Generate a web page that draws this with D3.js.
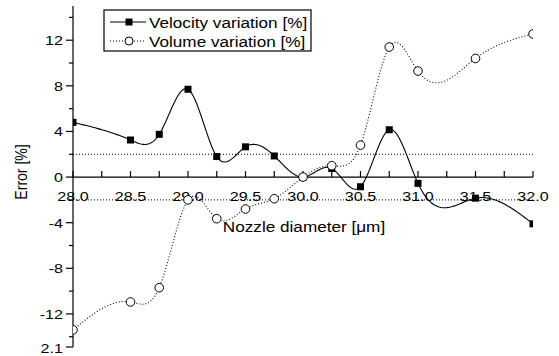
<!DOCTYPE html>
<html>
<head>
<meta charset="utf-8">
<script src="https://cdn.jsdelivr.net/npm/d3@7"></script>
<style>
  body { margin: 0; background: #fff; }
  text { font-family: "Liberation Sans", Arial, sans-serif; fill: #000; }
</style>
</head>
<body>
<div id="chart"></div>
<script>
// Data
var diameters = [28.0, 28.5, 28.75, 29.0, 29.25, 29.5, 29.75, 30.0, 30.25, 30.5, 30.75, 31.0, 31.5, 32.0];
var velocity = [4.8, 3.25, 3.75, 7.7, 1.8, 2.65, 1.85, 0, 0.75, -0.85, 4.15, -0.55, -1.85, -4.1];
var volume = [-13.4, -10.95, -9.7, -2.0, -3.65, -2.8, -1.9, 0, 1.0, 2.8, 11.4, 9.3, 10.4, 12.55];
var xTickLabels = ["28.0", "28.5", "29.0", "29.5", "30.0", "30.5", "31.0", "31.5", "32.0"];
var yTickLabels = ["-12", "-8", "-4", "0", "4", "8", "12"];
var refLines = [2, -2];
var seriesNames = ["Velocity variation [%]", "Volume variation [%]"];

var width = 559, height = 356;

var svg = d3.select("#chart")
  .append("svg")
  .attr("width", width)
  .attr("height", height);

var x = d3.scaleLinear().domain([28, 32]).range([73, 533]);
var y = d3.scaleLinear().domain([-14.9, 15]).range([347, 6]);

// text helper, squashed a bit vertically like the original
function label(parent, tx, ty, str, size, anchor) {
  return parent.append("text")
    .attr("transform", "translate(" + tx + "," + ty + ") scale(1.04,0.85)")
    .attr("text-anchor", anchor || "start")
    .attr("font-size", size + "px")
    .text(str);
}

// natural cubic spline y(x) through the points, sampled for drawing only
function splinePath(xs, ys) {
  var n = xs.length, h = [], alpha = [0], l = [1], mu = [0], z = [0];
  for (var i = 0; i < n - 1; i++) h[i] = xs[i + 1] - xs[i];
  for (i = 1; i < n - 1; i++) {
    alpha[i] = 3 / h[i] * (ys[i + 1] - ys[i]) - 3 / h[i - 1] * (ys[i] - ys[i - 1]);
  }
  for (i = 1; i < n - 1; i++) {
    l[i] = 2 * (xs[i + 1] - xs[i - 1]) - h[i - 1] * mu[i - 1];
    mu[i] = h[i] / l[i];
    z[i] = (alpha[i] - h[i - 1] * z[i - 1]) / l[i];
  }
  var c = [], b = [], d = [];
  c[n - 1] = 0;
  for (var j = n - 2; j >= 0; j--) {
    c[j] = z[j] - mu[j] * c[j + 1];
    b[j] = (ys[j + 1] - ys[j]) / h[j] - h[j] * (c[j + 1] + 2 * c[j]) / 3;
    d[j] = (c[j + 1] - c[j]) / (3 * h[j]);
  }
  var pts = [];
  for (j = 0; j < n - 1; j++) {
    for (var k = 0; k < 30; k++) {
      var t = h[j] * k / 30;
      pts.push([xs[j] + t, ys[j] + b[j] * t + c[j] * t * t + d[j] * t * t * t]);
    }
  }
  pts.push([xs[n - 1], ys[n - 1]]);
  return d3.line()
    .x(function (p) { return x(p[0]); })
    .y(function (p) { return y(p[1]); })(pts);
}

// dotted reference lines at +/-2
svg.selectAll(".ref")
  .data(refLines)
  .enter()
  .append("line")
  .attr("class", "ref")
  .attr("x1", x(28))
  .attr("x2", x(32))
  .attr("y1", function (d) { return y(d); })
  .attr("y2", function (d) { return y(d); })
  .attr("stroke", "#000")
  .attr("stroke-width", 1)
  .attr("stroke-dasharray", "1,2");

// y axis
svg.append("line")
  .attr("x1", x(28)).attr("x2", x(28))
  .attr("y1", y(15)).attr("y2", y(-14.9))
  .attr("stroke", "#000").attr("stroke-width", 1.2);

var yMinor = d3.range(-14, 15, 2);
svg.selectAll(".ytick")
  .data(yMinor)
  .enter()
  .append("line")
  .attr("x1", function (d) { return x(28) - (d % 4 === 0 ? 7 : 4); })
  .attr("x2", x(28))
  .attr("y1", function (d) { return y(d); })
  .attr("y2", function (d) { return y(d); })
  .attr("stroke", "#000").attr("stroke-width", 1.2);

yTickLabels.forEach(function (t) {
  label(svg, x(28) - 10, y(+t) + 5, t, 15.5, "end");
});

// odd end tick at the bottom of the axis
svg.append("line")
  .attr("x1", x(28) - 7).attr("x2", x(28))
  .attr("y1", y(-14.9)).attr("y2", y(-14.9))
  .attr("stroke", "#000").attr("stroke-width", 1.2);
label(svg, x(28) - 10, y(-14.9) + 6, "2.1", 15.5, "end");

// x axis through zero
svg.append("line")
  .attr("x1", x(28)).attr("x2", x(32))
  .attr("y1", y(0)).attr("y2", y(0))
  .attr("stroke", "#000").attr("stroke-width", 1.2);

svg.selectAll(".xtick")
  .data(d3.range(28, 32.01, 0.25))
  .enter()
  .append("line")
  .attr("x1", function (d) { return x(d); })
  .attr("x2", function (d) { return x(d); })
  .attr("y1", y(0))
  .attr("y2", y(0) - 6)
  .attr("stroke", "#000").attr("stroke-width", 1.2);

xTickLabels.forEach(function (t) {
  label(svg, x(+t), y(0) + 24, t, 15.5, "middle");
});

// axis titles
label(svg, 304, 232, "Nozzle diameter [\u03bcm]", 16.5, "middle");
svg.append("text")
  .attr("transform", "translate(27,172) rotate(-90) scale(0.85,1.04)")
  .attr("text-anchor", "middle")
  .attr("font-size", "16.5px")
  .text("Error [%]");

// clip markers to the plot width
svg.append("clipPath")
  .attr("id", "plotClip")
  .append("rect")
  .attr("x", x(28)).attr("y", 0)
  .attr("width", x(32) - x(28)).attr("height", height);

var plot = svg.append("g").attr("clip-path", "url(#plotClip)");

var velData = diameters.map(function (d, i) { return [d, velocity[i]]; });
var volData = diameters.map(function (d, i) { return [d, volume[i]]; });

// velocity: solid line, filled squares
plot.append("path")
  .attr("d", splinePath(diameters, velocity))
  .attr("fill", "none")
  .attr("stroke", "#000")
  .attr("stroke-width", 1.1);

plot.selectAll(".sq")
  .data(velData)
  .enter()
  .append("rect")
  .attr("x", function (d) { return x(d[0]) - 3.5; })
  .attr("y", function (d) { return y(d[1]) - 3.5; })
  .attr("width", 7)
  .attr("height", 7)
  .attr("fill", "#000");

// volume: dotted line, open circles
plot.append("path")
  .attr("d", splinePath(diameters, volume))
  .attr("fill", "none")
  .attr("stroke", "#000")
  .attr("stroke-width", 1.1)
  .attr("stroke-dasharray", "1,2");

plot.selectAll(".circ")
  .data(volData)
  .enter()
  .append("circle")
  .attr("cx", function (d) { return x(d[0]); })
  .attr("cy", function (d) { return y(d[1]); })
  .attr("r", 4.3)
  .attr("fill", "#fff")
  .attr("stroke", "#000")
  .attr("stroke-width", 1);

// legend
var legend = svg.append("g");
legend.append("rect")
  .attr("x", 104).attr("y", 10)
  .attr("width", 207).attr("height", 41)
  .attr("fill", "#fff")
  .attr("stroke", "#000")
  .attr("stroke-width", 1.2);

legend.append("line")
  .attr("x1", 110).attr("x2", 146).attr("y1", 22).attr("y2", 22)
  .attr("stroke", "#000").attr("stroke-width", 1.1);
legend.append("rect")
  .attr("x", 125.5).attr("y", 18.5).attr("width", 7).attr("height", 7)
  .attr("fill", "#000");
legend.append("line")
  .attr("x1", 110).attr("x2", 146).attr("y1", 41).attr("y2", 41)
  .attr("stroke", "#000").attr("stroke-width", 1.1)
  .attr("stroke-dasharray", "1,2");
legend.append("circle")
  .attr("cx", 129).attr("cy", 41).attr("r", 4)
  .attr("fill", "#fff").attr("stroke", "#000");

label(legend, 149, 27.5, seriesNames[0], 16.5, "start");
label(legend, 149, 46.5, seriesNames[1], 16.5, "start");
</script>
</body>
</html>
